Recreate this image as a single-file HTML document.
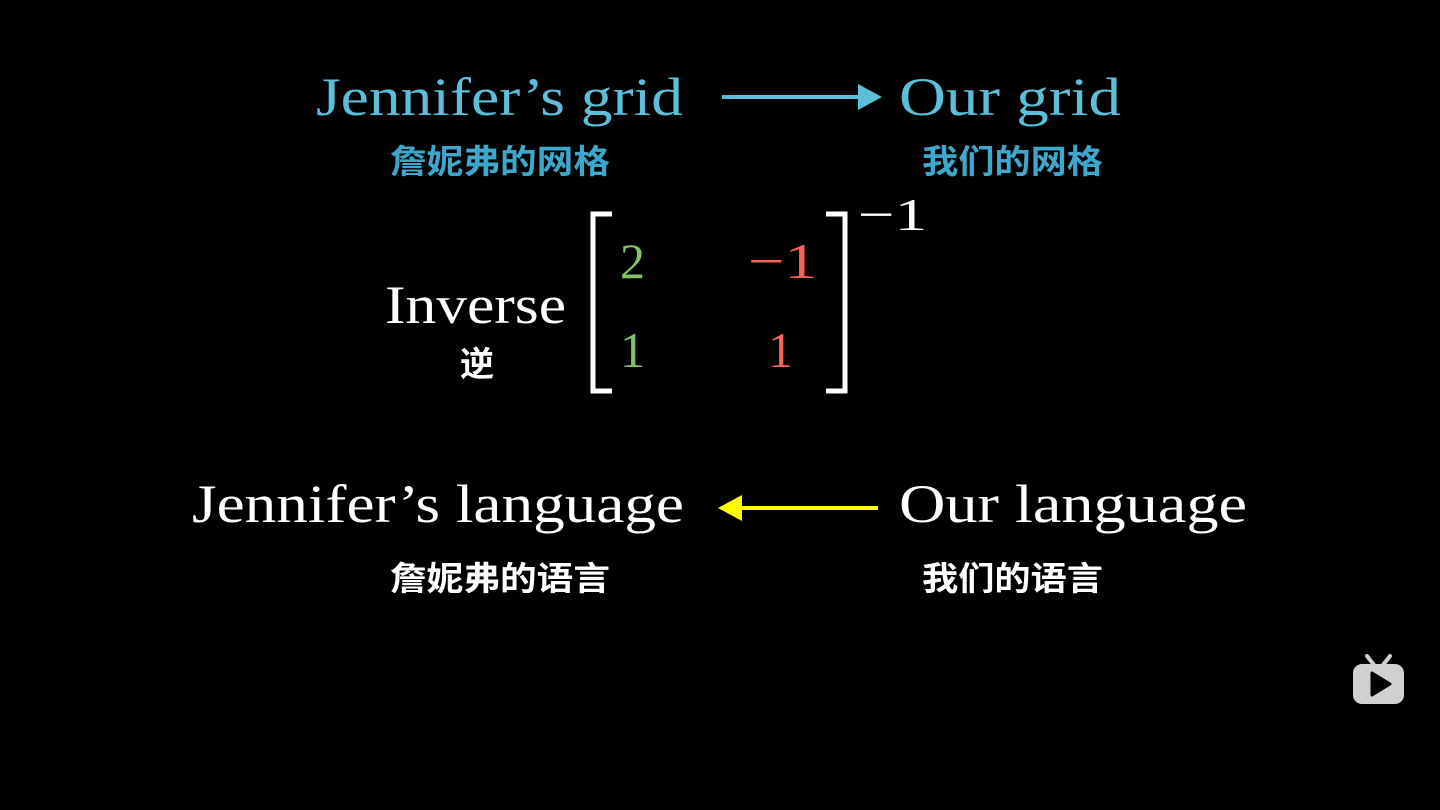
<!DOCTYPE html>
<html><head><meta charset="utf-8"><style>
html,body{margin:0;padding:0;background:#000;width:1440px;height:810px;overflow:hidden}
</style></head><body>
<svg width="1440" height="810" viewBox="0 0 1440 810" xmlns="http://www.w3.org/2000/svg">
<rect width="1440" height="810" fill="#000"/>
<g font-family="'Liberation Serif', serif" font-size="54">
<text x="316" y="115" fill="#5bbfd9" textLength="367" lengthAdjust="spacingAndGlyphs">Jennifer’s grid</text>
<text x="899" y="115" fill="#5bbfd9" textLength="222" lengthAdjust="spacingAndGlyphs">Our grid</text>
<text x="385" y="323" fill="#fff" textLength="181" lengthAdjust="spacingAndGlyphs">Inverse</text>
<text x="192" y="522" fill="#fff" textLength="492" lengthAdjust="spacingAndGlyphs">Jennifer’s language</text>
<text x="899" y="522" fill="#fff" textLength="348" lengthAdjust="spacingAndGlyphs">Our language</text>
<text x="620" y="278" fill="#83c167" font-size="50">2</text>
<text x="748" y="278" fill="#fc6255" font-size="50" textLength="69" lengthAdjust="spacingAndGlyphs">−1</text>
<text x="620" y="367" fill="#83c167" font-size="50">1</text>
<text x="768" y="367" fill="#fc6255" font-size="50">1</text>
<text x="858" y="230" fill="#fff" font-size="46" textLength="69" lengthAdjust="spacingAndGlyphs">−1</text>
</g>
<g font-family="'Noto Sans CJK SC', 'WenQuanYi Zen Hei', sans-serif" font-weight="bold" font-size="33">
<text x="390" y="173" fill="#3ea7cc" textLength="220" lengthAdjust="spacingAndGlyphs">詹妮弗的网格</text>
<text x="922" y="173" fill="#3ea7cc" textLength="181" lengthAdjust="spacingAndGlyphs">我们的网格</text>
<text x="460" y="376" fill="#fff" font-size="34">逆</text>
<text x="390" y="590" fill="#fff" textLength="220" lengthAdjust="spacingAndGlyphs">詹妮弗的语言</text>
<text x="922" y="590" fill="#fff" textLength="181" lengthAdjust="spacingAndGlyphs">我们的语言</text>
</g>
<line x1="722" y1="97" x2="862" y2="97" stroke="#5bbfd9" stroke-width="4"/>
<polygon points="858,84 882,97 858,110" fill="#5bbfd9"/>
<line x1="740" y1="508" x2="878" y2="508" stroke="#ffff00" stroke-width="4"/>
<polygon points="742,495 718,508 742,521" fill="#ffff00"/>
<path d="M612,214 H593 V391 H612" fill="none" stroke="#fff" stroke-width="5"/>
<path d="M826,214 H845 V391 H826" fill="none" stroke="#fff" stroke-width="5"/>
<g fill="#d0d0d0">
<rect x="1353" y="664" width="51" height="40" rx="9"/>
<line x1="1367" y1="656" x2="1374" y2="665" stroke="#d0d0d0" stroke-width="4" stroke-linecap="round"/>
<line x1="1390" y1="656" x2="1383" y2="665" stroke="#d0d0d0" stroke-width="4" stroke-linecap="round"/>
</g>
<polygon points="1372,673 1390,684 1372,695" fill="#000" stroke="#000" stroke-width="3" stroke-linejoin="round"/>
</svg>
</body></html>
